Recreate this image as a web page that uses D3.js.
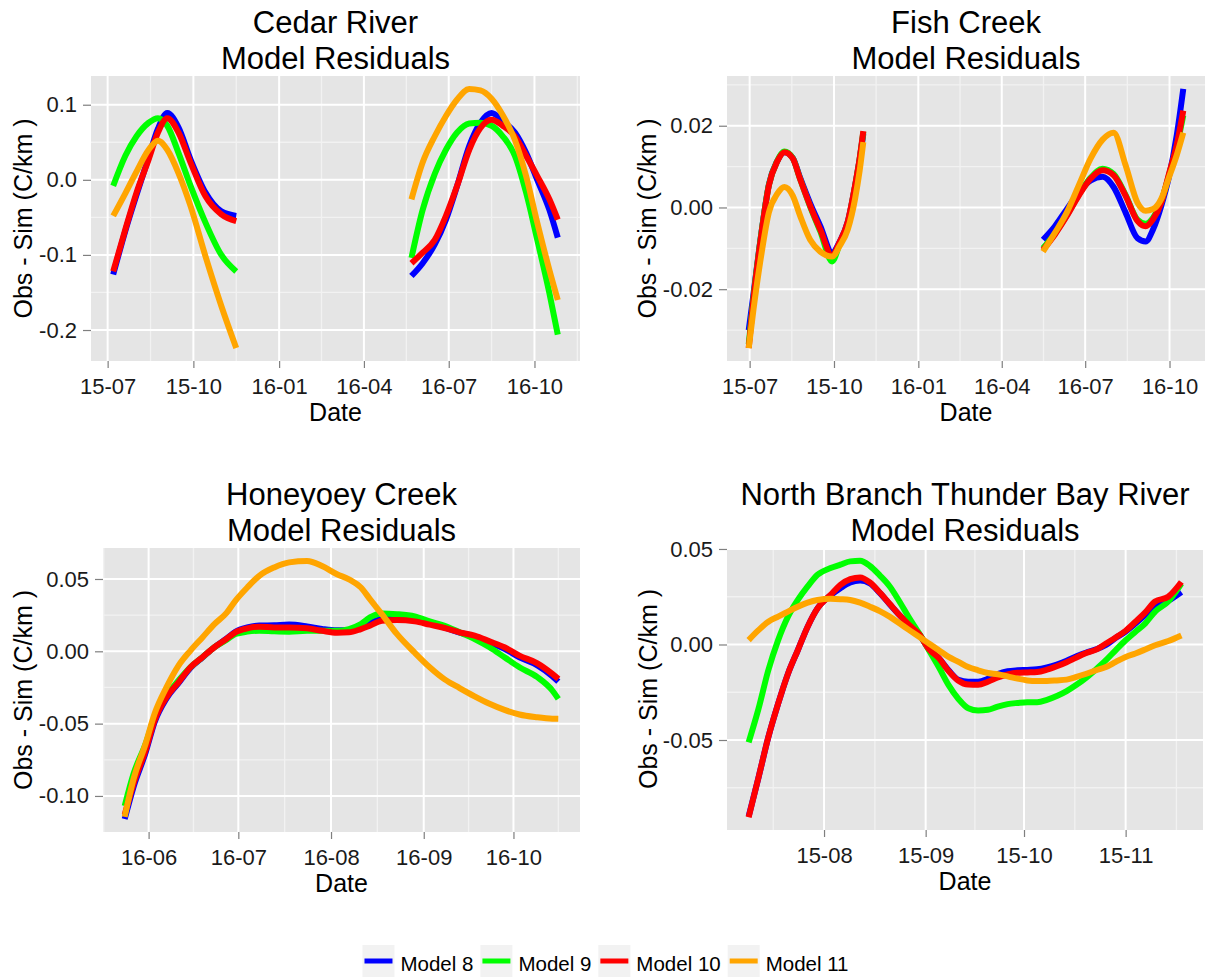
<!DOCTYPE html>
<html>
<head>
<meta charset="utf-8">
<script src="https://cdn.jsdelivr.net/npm/d3@7"></script>
<style>
  body { margin: 0; background: #ffffff; }
  svg { display: block; font-family: "Liberation Sans", Arial, sans-serif; }
</style>
</head>
<body>
<svg id="chart" width="1211" height="978"></svg>
<script>
// ---- Models ----
const models = ["Model 8", "Model 9", "Model 10", "Model 11"];
const modelColors = ["#0000FF", "#00FF00", "#FF0000", "#FFA500"];

// ---- Cedar River (two sampling seasons, null marks the gap) ----
const cedarDates = ["2015-07-07","2015-07-20","2015-08-01","2015-08-14","2015-08-24","2015-09-03","2015-09-15","2015-09-28","2015-10-14","2015-10-31","2015-11-16",
  null,
  "2016-05-22","2016-06-03","2016-06-16","2016-06-28","2016-07-10","2016-07-23","2016-08-04","2016-08-16","2016-08-28","2016-09-10","2016-09-22","2016-10-04","2016-10-17","2016-10-26"];
const cedarM8  = [-0.126,-0.068,-0.020,0.030,0.068,0.089,0.070,0.027,-0.017,-0.042,-0.048, null,
  -0.128,-0.111,-0.086,-0.053,-0.008,0.045,0.076,0.089,0.078,0.063,0.036,0.000,-0.040,-0.077];
const cedarM9  = [-0.008,0.032,0.058,0.076,0.082,0.072,0.036,-0.008,-0.057,-0.100,-0.122, null,
  -0.104,-0.040,0.008,0.040,0.063,0.075,0.076,0.072,0.058,0.032,-0.017,-0.080,-0.151,-0.206];
const cedarM10 = [-0.122,-0.066,-0.017,0.027,0.063,0.082,0.063,0.023,-0.022,-0.046,-0.055, null,
  -0.111,-0.097,-0.080,-0.048,-0.008,0.040,0.069,0.080,0.072,0.058,0.032,0.005,-0.026,-0.053];
const cedarM11 = [-0.048,-0.018,0.011,0.040,0.052,0.040,0.009,-0.035,-0.102,-0.168,-0.224, null,
  -0.026,0.023,0.058,0.085,0.107,0.121,0.119,0.108,0.086,0.053,0.005,-0.057,-0.120,-0.160];
const cedarYTicks = [0.1, 0.0, -0.1, -0.2];
const cedarYLabels = ["0.1", "0.0", "-0.1", "-0.2"];

// ---- Fish Creek ----
const fishDates = ["2015-06-30","2015-07-05","2015-07-14","2015-07-22","2015-07-31","2015-08-08","2015-08-17","2015-08-25","2015-09-05","2015-09-16","2015-09-29","2015-10-07","2015-10-16","2015-10-24","2015-10-29","2015-11-02",
  null,
  "2016-05-16","2016-05-29","2016-06-11","2016-06-24","2016-07-07","2016-07-20","2016-08-01","2016-08-14","2016-08-27","2016-09-05","2016-09-13","2016-09-22","2016-09-30","2016-10-09","2016-10-16"];
const fishM8  = [-0.0300,-0.0215,-0.0060,0.0056,0.0113,0.0135,0.0121,0.0073,0.0010,-0.0045,-0.0110,-0.0085,-0.0035,0.0052,0.0118,0.0180, null,
  -0.0079,-0.0046,-0.0004,0.0037,0.0066,0.0075,0.0050,-0.0012,-0.0075,-0.0083,-0.0054,0.0004,0.0071,0.0178,0.0290];
const fishM9  = [-0.0335,-0.0225,-0.0060,0.0055,0.0113,0.0137,0.0121,0.0070,0.0002,-0.0058,-0.0132,-0.0090,-0.0038,0.0052,0.0118,0.0185, null,
  -0.0100,-0.0064,-0.0019,0.0031,0.0073,0.0095,0.0082,0.0031,-0.0030,-0.0040,-0.0025,0.0014,0.0076,0.0150,0.0225];
const fishM10 = [-0.0344,-0.0228,-0.0062,0.0054,0.0112,0.0135,0.0120,0.0070,0.0004,-0.0054,-0.0118,-0.0085,-0.0035,0.0054,0.0120,0.0187, null,
  -0.0104,-0.0066,-0.0021,0.0029,0.0071,0.0091,0.0079,0.0029,-0.0033,-0.0046,-0.0029,0.0012,0.0079,0.0154,0.0237];
const fishM11 = [-0.0344,-0.0253,-0.0112,-0.0012,0.0033,0.0050,0.0029,-0.0020,-0.0079,-0.0108,-0.0120,-0.0095,-0.0054,0.0021,0.0090,0.0160, null,
  -0.0108,-0.0062,-0.0012,0.0054,0.0120,0.0166,0.0183,0.0104,0.0012,-0.0008,-0.0004,0.0021,0.0071,0.0129,0.0183];
const fishYTicks = [0.02, 0.0, -0.02];
const fishYLabels = ["0.02", "0.00", "-0.02"];

const seasonXTicks = ["2015-07-01","2015-10-01","2016-01-01","2016-04-01","2016-07-01","2016-10-01"];
const seasonXLabels = ["15-07","15-10","16-01","16-04","16-07","16-10"];

// ---- Honeyoey Creek ----
const honeyDates = ["2016-05-24","2016-05-27","2016-05-31","2016-06-03","2016-06-07","2016-06-11","2016-06-15","2016-06-19","2016-06-23","2016-06-27","2016-06-30",
  "2016-07-04","2016-07-08","2016-07-13","2016-07-18","2016-07-24","2016-07-29","2016-08-03","2016-08-07","2016-08-11","2016-08-14","2016-08-18","2016-08-23","2016-08-29",
  "2016-09-03","2016-09-08","2016-09-13","2016-09-18","2016-09-23","2016-09-28","2016-10-03","2016-10-09","2016-10-14","2016-10-16"];
const honeyM8  = [-0.1160,-0.0935,-0.0700,-0.0490,-0.0325,-0.0220,-0.0115,-0.0043,0.0028,0.0087,0.0135,0.0165,0.0178,0.0180,0.0185,0.0172,0.0155,0.0145,0.0145,0.0165,0.0195,0.0225,0.0232,0.0218,0.0192,0.0164,0.0130,0.0102,0.0062,0.0018,-0.0042,-0.0097,-0.0172,-0.0210];
const honeyM9  = [-0.1070,-0.0845,-0.0639,-0.0455,-0.0306,-0.0202,-0.0110,-0.0041,0.0028,0.0078,0.0119,0.0136,0.0142,0.0138,0.0136,0.0142,0.0142,0.0142,0.0154,0.0188,0.0234,0.0262,0.0257,0.0241,0.0207,0.0177,0.0131,0.0085,0.0028,-0.0041,-0.0110,-0.0179,-0.0271,-0.0329];
const honeyM10 = [-0.1130,-0.0914,-0.0685,-0.0478,-0.0317,-0.0214,-0.0110,-0.0041,0.0028,0.0085,0.0131,0.0159,0.0170,0.0165,0.0165,0.0159,0.0142,0.0129,0.0131,0.0154,0.0177,0.0211,0.0216,0.0207,0.0184,0.0161,0.0131,0.0108,0.0069,0.0028,-0.0030,-0.0083,-0.0156,-0.0191];
const honeyM11 = [-0.1144,-0.0880,-0.0639,-0.0432,-0.0248,-0.0099,0.0005,0.0096,0.0188,0.0264,0.0349,0.0441,0.0522,0.0580,0.0615,0.0625,0.0590,0.0533,0.0498,0.0441,0.0361,0.0257,0.0120,-0.0010,-0.0110,-0.0194,-0.0254,-0.0311,-0.0363,-0.0405,-0.0437,-0.0456,-0.0466,-0.0467];
const honeyYTicks = [0.05, 0.0, -0.05, -0.10];
const honeyYLabels = ["0.05", "0.00", "-0.05", "-0.10"];
const honeyXTicks = ["2016-06-01","2016-07-01","2016-08-01","2016-09-01","2016-10-01"];
const honeyXLabels = ["16-06","16-07","16-08","16-09","16-10"];

// ---- North Branch Thunder Bay River ----
const northDates = ["2015-07-09","2015-07-12","2015-07-15","2015-07-18","2015-07-21","2015-07-24","2015-07-27","2015-07-30","2015-08-03","2015-08-06","2015-08-09",
  "2015-08-12","2015-08-15","2015-08-18","2015-08-21","2015-08-24","2015-08-27","2015-08-30","2015-09-02","2015-09-05","2015-09-08","2015-09-11","2015-09-14",
  "2015-09-17","2015-09-20","2015-09-23","2015-09-26","2015-09-29","2015-10-02","2015-10-05","2015-10-08","2015-10-11","2015-10-14","2015-10-17","2015-10-20",
  "2015-10-23","2015-10-26","2015-10-29","2015-11-01","2015-11-04","2015-11-07","2015-11-10","2015-11-14","2015-11-18"];
const northM8  = [-0.0900,-0.0697,-0.0486,-0.0310,-0.0153,-0.0030,0.0093,0.0189,0.0258,0.0295,0.0325,0.0335,0.0320,0.0270,0.0211,0.0154,0.0101,0.0054,-0.0024,-0.0071,-0.0135,-0.0185,-0.0195,
  -0.0195,-0.0180,-0.0155,-0.0140,-0.0135,-0.0133,-0.0130,-0.0120,-0.0105,-0.0085,-0.0062,-0.0042,-0.0025,-0.0002,0.0035,0.0068,0.0110,0.0155,0.0205,0.0230,0.0275];
const northM9  = [-0.0512,-0.0337,-0.0135,0.0023,0.0146,0.0233,0.0304,0.0365,0.0400,0.0418,0.0435,0.0438,0.0411,0.0362,0.0305,0.0225,0.0138,0.0058,-0.0030,-0.0118,-0.0213,-0.0285,-0.0334,
  -0.0346,-0.0342,-0.0325,-0.0312,-0.0306,-0.0302,-0.0302,-0.0290,-0.0270,-0.0244,-0.0211,-0.0173,-0.0129,-0.0082,-0.0029,0.0022,0.0067,0.0111,0.0172,0.0225,0.0319];
const northM10 = [-0.0904,-0.0697,-0.0486,-0.0310,-0.0153,-0.0030,0.0093,0.0189,0.0260,0.0312,0.0342,0.0351,0.0325,0.0272,0.0213,0.0154,0.0101,0.0054,-0.0024,-0.0071,-0.0139,-0.0190,-0.0210,
  -0.0211,-0.0195,-0.0173,-0.0157,-0.0148,-0.0146,-0.0144,-0.0132,-0.0114,-0.0093,-0.0068,-0.0045,-0.0027,0.0005,0.0037,0.0072,0.0119,0.0168,0.0225,0.0250,0.0327];
const northM11 = [0.0023,0.0075,0.0119,0.0146,0.0172,0.0198,0.0219,0.0233,0.0239,0.0237,0.0233,0.0219,0.0198,0.0175,0.0146,0.0111,0.0075,0.0040,0.0005,-0.0030,-0.0065,-0.0091,-0.0118,
  -0.0135,-0.0149,-0.0156,-0.0167,-0.0179,-0.0188,-0.0191,-0.0191,-0.0188,-0.0184,-0.0170,-0.0153,-0.0135,-0.0118,-0.0091,-0.0065,-0.0047,-0.0026,-0.0004,0.0018,0.0047];
const northYTicks = [0.05, 0.0, -0.05];
const northYLabels = ["0.05", "0.00", "-0.05"];
const northXTicks = ["2015-08-01","2015-09-01","2015-10-01","2015-11-01"];
const northXLabels = ["15-08","15-09","15-10","15-11"];

// ---- Panels assembled from the arrays above ----
const sites = [
  { name: "Cedar River", dates: cedarDates, series: [cedarM8, cedarM9, cedarM10, cedarM11],
    yTicks: cedarYTicks, yLabels: cedarYLabels, xTicks: seasonXTicks, xLabels: seasonXLabels },
  { name: "Fish Creek", dates: fishDates, series: [fishM8, fishM9, fishM10, fishM11],
    yTicks: fishYTicks, yLabels: fishYLabels, xTicks: seasonXTicks, xLabels: seasonXLabels },
  { name: "Honeyoey Creek", dates: honeyDates, series: [honeyM8, honeyM9, honeyM10, honeyM11],
    yTicks: honeyYTicks, yLabels: honeyYLabels, xTicks: honeyXTicks, xLabels: honeyXLabels },
  { name: "North Branch Thunder Bay River", dates: northDates, series: [northM8, northM9, northM10, northM11],
    yTicks: northYTicks, yLabels: northYLabels, xTicks: northXTicks, xLabels: northXLabels }
];

// Plot-area rectangles of the 2x2 grid
const panelRects = [
  { x0: 91,  x1: 580,  y0: 76,  y1: 361, yTitleX: 23 },
  { x0: 727, x1: 1205, y0: 76,  y1: 361, yTitleX: 647 },
  { x0: 103, x1: 580,  y0: 548, y1: 832, yTitleX: 23 },
  { x0: 727, x1: 1203, y0: 548, y1: 830, yTitleX: 648 }
];

const parse = d3.timeParse("%Y-%m-%d");
const svg = d3.select("#chart");

// Midpoints between major breaks, extended one step past each end
function minorBreaks(majors, lo, hi) {
  const ext = [majors[0] - (majors[1] - majors[0]), ...majors,
               majors[majors.length - 1] + (majors[majors.length - 1] - majors[majors.length - 2])];
  const out = [];
  for (let i = 0; i < ext.length - 1; i++) {
    const m = (ext[i] + ext[i + 1]) / 2;
    if (m >= lo && m <= hi) out.push(m);
  }
  return out;
}

function drawPanel(site, rect) {
  const g = svg.append("g");
  const dates = site.dates.map(d => (d ? parse(d) : null));
  const [d0, d1] = d3.extent(dates.filter(Boolean));
  const dSpan = d1 - d0;
  const x = d3.scaleTime()
    .domain([new Date(+d0 - dSpan * 0.05), new Date(+d1 + dSpan * 0.05)])
    .range([rect.x0, rect.x1]);
  const vals = site.series.flat().filter(v => v != null);
  const [v0, v1] = d3.extent(vals);
  const vSpan = v1 - v0;
  const y = d3.scaleLinear()
    .domain([v0 - vSpan * 0.05, v1 + vSpan * 0.05])
    .range([rect.y1, rect.y0]);

  // panel background
  g.append("rect")
    .attr("x", rect.x0).attr("y", rect.y0)
    .attr("width", rect.x1 - rect.x0).attr("height", rect.y1 - rect.y0)
    .attr("fill", "#E5E5E5");

  const xMajor = site.xTicks.map(parse);
  const xMajorNum = xMajor.map(Number);
  const xDom = x.domain().map(Number);
  const xMinor = minorBreaks(xMajorNum, xDom[0], xDom[1]);
  const yDom = y.domain();
  const yMajorAsc = site.yTicks.slice().sort((a, b) => a - b);
  const yMinor = minorBreaks(yMajorAsc, yDom[0], yDom[1]);

  // minor grid
  g.selectAll(null).data(xMinor).enter().append("line")
    .attr("x1", d => x(d)).attr("x2", d => x(d))
    .attr("y1", rect.y0).attr("y2", rect.y1)
    .attr("stroke", "#F2F2F2").attr("stroke-width", 1.3);
  g.selectAll(null).data(yMinor).enter().append("line")
    .attr("x1", rect.x0).attr("x2", rect.x1)
    .attr("y1", d => y(d)).attr("y2", d => y(d))
    .attr("stroke", "#F2F2F2").attr("stroke-width", 1.3);

  // major grid
  g.selectAll(null).data(xMajor).enter().append("line")
    .attr("x1", d => x(d)).attr("x2", d => x(d))
    .attr("y1", rect.y0).attr("y2", rect.y1)
    .attr("stroke", "#FFFFFF").attr("stroke-width", 2);
  g.selectAll(null).data(site.yTicks).enter().append("line")
    .attr("x1", rect.x0).attr("x2", rect.x1)
    .attr("y1", d => y(d)).attr("y2", d => y(d))
    .attr("stroke", "#FFFFFF").attr("stroke-width", 2);

  // residual curves, one per model
  const line = d3.line()
    .defined(d => d.date && d.v != null)
    .x(d => x(d.date)).y(d => y(d.v))
    .curve(d3.curveMonotoneX);
  site.series.forEach((vals, i) => {
    const pts = dates.map((date, j) => ({ date, v: vals[j] }));
    g.append("path")
      .attr("d", line(pts))
      .attr("fill", "none")
      .attr("stroke", modelColors[i])
      .attr("stroke-width", 6)
      .attr("stroke-linejoin", "round")
      .attr("stroke-linecap", "butt");
  });

  // axes
  const xAxis = d3.axisBottom(x)
    .tickValues(xMajor)
    .tickFormat((d, i) => site.xLabels[i])
    .tickSize(7).tickPadding(10);
  const yAxis = d3.axisLeft(y)
    .tickValues(site.yTicks)
    .tickFormat((d, i) => site.yLabels[i])
    .tickSize(8).tickPadding(6);

  const gx = g.append("g").attr("transform", `translate(0,${rect.y1})`).call(xAxis);
  const gy = g.append("g").attr("transform", `translate(${rect.x0},0)`).call(yAxis);
  [gx, gy].forEach(ax => {
    ax.select(".domain").remove();
    ax.selectAll(".tick line").attr("stroke", "#7F7F7F").attr("stroke-width", 1.2);
    ax.selectAll(".tick text")
      .attr("fill", "#1a1a1a")
      .style("font-size", "22px")
      .style("font-family", '"Liberation Sans", Arial, sans-serif');
  });

  // axis titles
  const cx = (rect.x0 + rect.x1) / 2;
  const cy = (rect.y0 + rect.y1) / 2;
  g.append("text")
    .attr("x", cx).attr("y", rect.y1 + 60)
    .attr("text-anchor", "middle")
    .style("font-size", "25px").attr("fill", "#000")
    .text("Date");
  g.append("text")
    .attr("transform", `translate(${rect.yTitleX},${cy}) rotate(-90)`)
    .attr("text-anchor", "middle").attr("dy", "0.35em")
    .style("font-size", "25px").attr("fill", "#000")
    .text("Obs - Sim (C/km )");

  // two-line panel title
  g.append("text")
    .attr("x", cx).attr("y", rect.y0 - 43)
    .attr("text-anchor", "middle")
    .style("font-size", "31px").attr("fill", "#000")
    .text(site.name);
  g.append("text")
    .attr("x", cx).attr("y", rect.y0 - 7)
    .attr("text-anchor", "middle")
    .style("font-size", "31px").attr("fill", "#000")
    .text("Model Residuals");
}

sites.forEach((s, i) => drawPanel(s, panelRects[i]));

// ---- Legend along the bottom ----
const legend = svg.append("g");
const keySize = 32, keyGap = 6, itemGap = 7;
let cursor = 0;
models.forEach((m, i) => {
  const item = legend.append("g").attr("transform", `translate(${cursor},0)`);
  item.append("rect")
    .attr("x", 0).attr("y", -keySize / 2)
    .attr("width", keySize).attr("height", keySize)
    .attr("fill", "#F2F2F2");
  item.append("line")
    .attr("x1", 2).attr("x2", keySize - 2)
    .attr("y1", 0).attr("y2", 0)
    .attr("stroke", modelColors[i]).attr("stroke-width", 5);
  const t = item.append("text")
    .attr("x", keySize + keyGap).attr("y", 10)
    .style("font-size", "20.5px").attr("fill", "#000")
    .text(m);
  cursor += keySize + keyGap + t.node().getComputedTextLength() + itemGap;
});
const legendWidth = cursor - itemGap;
legend.attr("transform", `translate(${605.5 - legendWidth / 2},961)`);
</script>
</body>
</html>
